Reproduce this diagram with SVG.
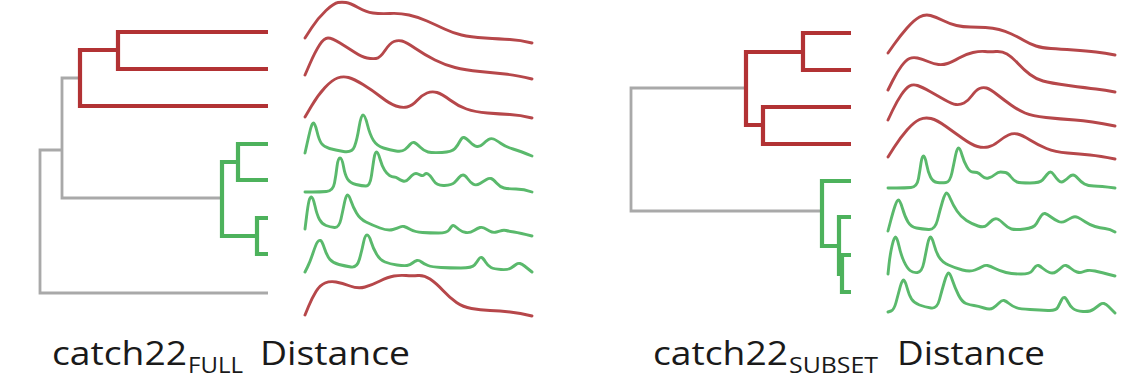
<svg xmlns="http://www.w3.org/2000/svg" width="1148" height="392" viewBox="0 0 1148 392">
<style>
.br{fill:none;stroke:#b23234;stroke-width:4.2;stroke-linejoin:miter;stroke-linecap:butt}
.bg{fill:none;stroke:#4db25c;stroke-width:4.2;stroke-linejoin:miter;stroke-linecap:butt}
.bk{fill:none;stroke:#a9a9a9;stroke-width:2.8;stroke-linejoin:miter}
.sr{fill:none;stroke:#b6474a;stroke-width:2.9;stroke-linejoin:round;stroke-linecap:round}
.sg{fill:none;stroke:#5ab96c;stroke-width:2.9;stroke-linejoin:round;stroke-linecap:round}
.lb{font-family:"Open Sans","Noto Sans","Liberation Sans",sans-serif;fill:#1a1a1a}
</style>
<rect width="1148" height="392" fill="#ffffff"/>
<g id="connectors">
  <g id="tree-full">
    <path class="bk" d="M80,78 H62 V198 H222"/>
    <path class="bk" d="M62,150 H40 V293 H268"/>
    <path class="br" d="M268,32 H118 V69 H268"/>
    <path class="br" d="M118,50 H80 V106 H268"/>
    <path class="bg" d="M268,144 H238 V180 H268"/>
    <path class="bg" d="M238,162 H222 V236 H257"/>
    <path class="bg" d="M268,218 H257 V254 H268"/>
  </g>
  <g id="tree-subset">
    <path class="bk" d="M746,88 H631 V211 H822"/>
    <path class="br" d="M851,33 H803 V70 H851"/>
    <path class="br" d="M851,107 H763 V144 H851"/>
    <path class="br" d="M803,52 H746 V125 H763"/>
    <path class="bg" d="M851,181 H822 V246 H839"/>
    <path class="bg" d="M851,217 H839 V274 H842"/>
    <path class="bg" d="M851,255 H842 V292 H851"/>
  </g>
</g>
<g id="series-full">
  <g id="full-r1"><path class="sr" d="M305,38 L311.5,28 Q318,18 326,10.5 Q334,3 338,2.5 Q342,2 346,2.5 Q350,3 358,7.5 Q366,12 373,13 Q380,14 390,13.5 Q400,13 409,15 Q418,17 427,21 Q436,25 444.5,29 Q453,33 461.5,35 Q470,37 485,38 Q500,39 510,39.5 Q520,40 532,43"/></g>
  <g id="full-r2"><path class="sr" d="M305,75 L310,63.5 Q315,52 319.5,45 Q324,38 328,38 Q332,38 340,43 Q348,48 355,52.5 Q362,57 367,58 Q372,59 376,58.5 Q380,58 385,50.5 Q390,43 394,41.5 Q398,40 402,41 Q406,42 415.5,48.5 Q425,55 435,60 Q445,65 455,67.5 Q465,70 480,71.5 Q495,73 505,74 Q515,75 532,79"/></g>
  <g id="full-r3"><path class="sr" d="M305,117 L311.5,106 Q318,95 325,87.5 Q332,80 337.5,78 Q343,76 348.5,77.5 Q354,79 363,84.5 Q372,90 381,97 Q390,104 396,106 Q402,108 407,107 Q412,106 417,100.5 Q422,95 427,93 Q432,91 437,92.5 Q442,94 450,100 Q458,106 466.5,109 Q475,112 487.5,113 Q500,114 510,114.5 Q520,115 532,118"/></g>
  <g id="full-g1"><path class="sg" d="M305,153 L307,144 Q309,135 310.5,129 Q312,123 313.5,123 Q315,123 317,131.5 Q319,140 321.5,143.5 Q324,147 329.5,148.5 Q335,150 343.5,151.5 Q352,153 354.5,146.5 Q357,140 359,127.5 Q361,115 363,115 Q365,115 367.5,125 Q370,135 373.5,140.5 Q377,146 383.5,148 Q390,150 396,151 Q402,152 405,149.5 Q408,147 410,144.5 Q412,142 414,142.5 Q416,143 420,147 Q424,151 428,152 Q432,153 442,152.5 Q452,152 455,148.5 Q458,145 460,141 Q462,137 464,137.5 Q466,138 470,142 Q474,146 477,146.5 Q480,147 483,144 Q486,141 488.5,139.5 Q491,138 493.5,139 Q496,140 501,143.5 Q506,147 513,149 Q520,151 532,156"/></g>
  <g id="full-g2"><path class="sg" d="M305,192 L312.5,192 Q320,192 326.5,191.5 Q333,191 334.5,183 Q336,175 337,166.5 Q338,158 340,158 Q342,158 343.5,166.5 Q345,175 347.5,179 Q350,183 356,184.5 Q362,186 366,186 Q370,186 371.5,175.5 Q373,165 374,158.5 Q375,152 376.5,152 Q378,152 380,159 Q382,166 384.5,170 Q387,174 389.5,175.5 Q392,177 394,177 Q396,177 398,178.5 Q400,180 403,181 Q406,182 409,178.5 Q412,175 414,174 Q416,173 418,174 Q420,175 421.5,175.5 Q423,176 424.5,174.5 Q426,173 428,174 Q430,175 433.5,180.5 Q437,186 444.5,185.5 Q452,185 454.5,182.5 Q457,180 459,177.5 Q461,175 463,175 Q465,175 467.5,178.5 Q470,182 473,184 Q476,186 480,183.5 Q484,181 486.5,179.5 Q489,178 491,178.5 Q493,179 496.5,183 Q500,187 504,188 Q508,189 516,189 Q524,189 532,192"/></g>
  <g id="full-g3"><path class="sg" d="M305,229 L306.5,217 Q308,205 309,201 Q310,197 311.5,197 Q313,197 315,206 Q317,215 319.5,219.5 Q322,224 326,225.5 Q330,227 334.5,227.5 Q339,228 341,219 Q343,210 344.5,202.5 Q346,195 347.5,195 Q349,195 351,201 Q353,207 356.5,213 Q360,219 366,222 Q372,225 380,228 Q388,231 393,229.5 Q398,228 400,227 Q402,226 404,226.5 Q406,227 410.5,229.5 Q415,232 422.5,232.5 Q430,233 438.5,233 Q447,233 449,230 Q451,227 452,226 Q453,225 454.5,226 Q456,227 459,229.5 Q462,232 466,232.5 Q470,233 474,230.5 Q478,228 480,227.5 Q482,227 484,228 Q486,229 489.5,231 Q493,233 496.5,232 Q500,231 502,230.5 Q504,230 506,230.5 Q508,231 514,232 Q520,233 532,236"/></g>
  <g id="full-g4"><path class="sg" d="M305,272 L307.5,267 Q310,262 313,253 Q316,244 317.5,242 Q319,240 320.5,240.5 Q322,241 324.5,248.5 Q327,256 330,259.5 Q333,263 339,264.5 Q345,266 351,267 Q357,268 359.5,259 Q362,250 363.5,242.5 Q365,235 367,235 Q369,235 371,241.5 Q373,248 376.5,254 Q380,260 385,262 Q390,264 397,265 Q404,266 407,265.5 Q410,265 412.5,263 Q415,261 417,260.5 Q419,260 421.5,262 Q424,264 428,265.5 Q432,267 441,267.5 Q450,268 461,268 Q472,268 474.5,265 Q477,262 478.5,259.5 Q480,257 481.5,257.5 Q483,258 485.5,262 Q488,266 491,267.5 Q494,269 501,269.5 Q508,270 511,268 Q514,266 516,264.5 Q518,263 520,263.5 Q522,264 524.5,266 Q527,268 532,272"/></g>
  <g id="full-r4"><path class="sr" d="M305,315 L308.5,306.5 Q312,298 316,291.5 Q320,285 325,283 Q330,281 336,282 Q342,283 350,286 Q358,289 365,287 Q372,285 380,281 Q388,277 394,276 Q400,275 406,275.5 Q412,276 418,275.5 Q424,275 430,279 Q436,283 443,290.5 Q450,298 456.5,302.5 Q463,307 471.5,308.5 Q480,310 490,310.5 Q500,311 510,312 Q520,313 532,316"/></g>
</g>
<g id="series-subset">
  <g id="sub-r1"><path class="sr" d="M888,53 L894,44.5 Q900,36 907,28 Q914,20 919.5,17 Q925,14 930.5,15.5 Q936,17 943,20.5 Q950,24 956.5,25.5 Q963,27 970.5,27 Q978,27 985.5,27.5 Q993,28 999,29.5 Q1005,31 1011.5,34 Q1018,37 1024,40.5 Q1030,44 1036,46 Q1042,48 1051,48.5 Q1060,49 1073.5,50 Q1087,51 1096,52 Q1105,53 1115,55"/></g>
  <g id="sub-r2"><path class="sr" d="M888,90 L892.5,81 Q897,72 901.5,66 Q906,60 909.5,58.5 Q913,57 917.5,58 Q922,59 928,61.5 Q934,64 938.5,64.5 Q943,65 947.5,63.5 Q952,62 959,58 Q966,54 973,52.5 Q980,51 985,51.5 Q990,52 996,51.5 Q1002,51 1007,54 Q1012,57 1018,63.5 Q1024,70 1030,74.5 Q1036,79 1043,81 Q1050,83 1068.5,85.5 Q1087,88 1096,89 Q1105,90 1115,92"/></g>
  <g id="sub-r3"><path class="sr" d="M888,120 L892.5,110.5 Q897,101 901.5,94.5 Q906,88 909.5,86 Q913,84 917.5,85.5 Q922,87 930,91.5 Q938,96 945,100 Q952,104 956,104.5 Q960,105 964,103 Q968,101 972,95.5 Q976,90 979.5,88.5 Q983,87 986.5,88 Q990,89 997,94.5 Q1004,100 1011,105 Q1018,110 1025,113 Q1032,116 1046,117.5 Q1060,119 1075,120 Q1090,121 1115,126"/></g>
  <g id="sub-r4"><path class="sr" d="M888,157 L894,147.5 Q900,138 907,130 Q914,122 919.5,119.5 Q925,117 931,118.5 Q937,120 946,126.5 Q955,133 963.5,139 Q972,145 977.5,146.5 Q983,148 988,147 Q993,146 998.5,141.5 Q1004,137 1008.5,135 Q1013,133 1017.5,134 Q1022,135 1030,140 Q1038,145 1046.5,148.5 Q1055,152 1067.5,153 Q1080,154 1090,155 Q1100,156 1115,159"/></g>
  <g id="sub-g1"><path class="sg" d="M888,188 L896.5,188 Q905,188 911,187.5 Q917,187 918.5,178.5 Q920,170 921,163 Q922,156 923.5,156 Q925,156 926.5,164 Q928,172 930.5,177 Q933,182 937.5,182.5 Q942,183 946,182.5 Q950,182 952,172.5 Q954,163 955.5,155.5 Q957,148 958.5,148 Q960,148 962,155 Q964,162 967,167 Q970,172 972.5,172 Q975,172 977,172.5 Q979,173 982,176 Q985,179 988.5,178 Q992,177 995,174.5 Q998,172 1000.5,172 Q1003,172 1005.5,172.5 Q1008,173 1011,177 Q1014,181 1017,182 Q1020,183 1030,183 Q1040,183 1042.5,180 Q1045,177 1047,174.5 Q1049,172 1050.5,172 Q1052,172 1054,175 Q1056,178 1058.5,180.5 Q1061,183 1064,181 Q1067,179 1069,177 Q1071,175 1073,175 Q1075,175 1078,178.5 Q1081,182 1084.5,184 Q1088,186 1094,186 Q1100,186 1115,188"/></g>
  <g id="sub-g2"><path class="sg" d="M888,231 L890.5,221.5 Q893,212 895,206 Q897,200 898.5,200 Q900,200 902.5,208.5 Q905,217 908,222 Q911,227 916.5,228 Q922,229 928.5,229.5 Q935,230 937.5,220 Q940,210 942.5,201.5 Q945,193 946.5,193 Q948,193 950.5,199 Q953,205 957,211 Q961,217 966.5,220.5 Q972,224 978,226 Q984,228 987,225 Q990,222 992.5,220 Q995,218 997.5,219 Q1000,220 1004,224 Q1008,228 1011.5,229 Q1015,230 1024.5,229 Q1034,228 1036.5,223.5 Q1039,219 1041,216 Q1043,213 1045,213.5 Q1047,214 1051,217 Q1055,220 1058.5,221.5 Q1062,223 1065.5,221 Q1069,219 1072,217.5 Q1075,216 1078,217.5 Q1081,219 1085.5,222 Q1090,225 1095,226.5 Q1100,228 1105,228.5 Q1110,229 1115,232"/></g>
  <g id="sub-g3"><path class="sg" d="M888,274 L889,264.5 Q890,255 892,246 Q894,237 895.5,237 Q897,237 899,246 Q901,255 904,261.5 Q907,268 910,270.5 Q913,273 917.5,272.5 Q922,272 924,262 Q926,252 927.5,244.5 Q929,237 930.5,237 Q932,237 934,244.5 Q936,252 939,257 Q942,262 948.5,265 Q955,268 962.5,270 Q970,272 975,270 Q980,268 982.5,266.5 Q985,265 987.5,265.5 Q990,266 995,268.5 Q1000,271 1006,272.5 Q1012,274 1021,274 Q1030,274 1032,271 Q1034,268 1035.5,266.5 Q1037,265 1038.5,265.5 Q1040,266 1043,268.5 Q1046,271 1049.5,272.5 Q1053,274 1056.5,271.5 Q1060,269 1062,267 Q1064,265 1066,265.5 Q1068,266 1071,268.5 Q1074,271 1077,272 Q1080,273 1082.5,272 Q1085,271 1087.5,270.5 Q1090,270 1095,271 Q1100,272 1115,276"/></g>
  <g id="sub-g4"><path class="sg" d="M888,312 L891,311 Q894,310 896,302.5 Q898,295 900,287.5 Q902,280 903.5,280 Q905,280 907,287.5 Q909,295 911.5,299 Q914,303 919.5,305 Q925,307 931,308 Q937,309 939.5,299.5 Q942,290 944.5,281.5 Q947,273 948.5,273 Q950,273 952.5,280.5 Q955,288 958.5,295 Q962,302 966,303.5 Q970,305 974,305.5 Q978,306 984,308 Q990,310 993,308 Q996,306 999,303 Q1002,300 1004,300.5 Q1006,301 1009,303.5 Q1012,306 1016,307.5 Q1020,309 1030,309.5 Q1040,310 1048,310.5 Q1056,311 1058,307 Q1060,303 1061.5,300 Q1063,297 1064.5,297.5 Q1066,298 1068,302 Q1070,306 1073,308.5 Q1076,311 1083,311.5 Q1090,312 1094,309 Q1098,306 1100,304.5 Q1102,303 1104,303.5 Q1106,304 1108.5,306.5 Q1111,309 1115,313"/></g>
</g>
<g id="label-full" class="lb">
  <text x="52" y="365" font-size="32" textLength="135" lengthAdjust="spacingAndGlyphs">catch22</text>
  <text x="188" y="373" font-size="21" textLength="55" lengthAdjust="spacingAndGlyphs">FULL</text>
  <text x="260" y="365" font-size="32" textLength="150" lengthAdjust="spacingAndGlyphs">Distance</text>
</g>
<g id="label-subset" class="lb">
  <text x="653" y="365" font-size="32" textLength="135" lengthAdjust="spacingAndGlyphs">catch22</text>
  <text x="789" y="373" font-size="21" textLength="89" lengthAdjust="spacingAndGlyphs">SUBSET</text>
  <text x="897" y="365" font-size="32" textLength="148" lengthAdjust="spacingAndGlyphs">Distance</text>
</g>
</svg>
